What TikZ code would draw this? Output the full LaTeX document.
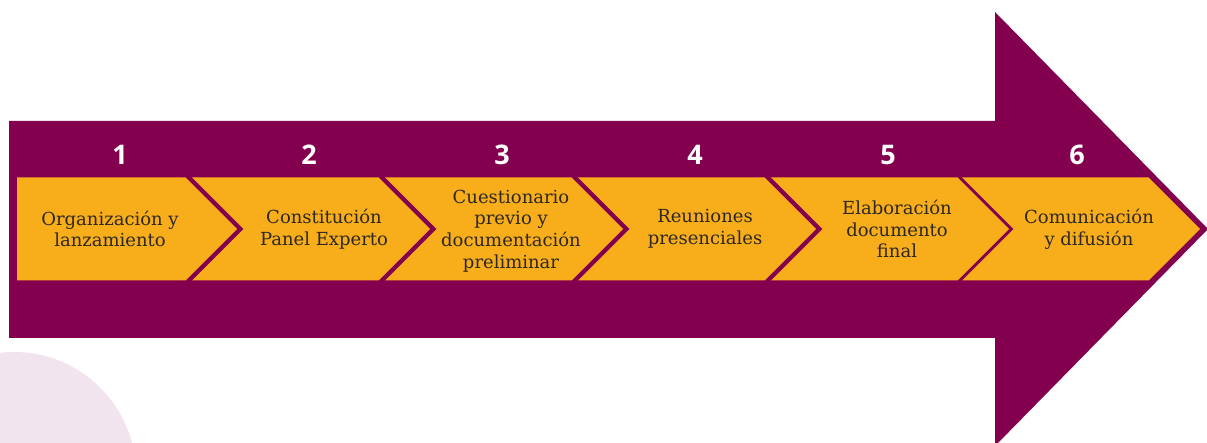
\documentclass[tikz,border=0pt]{standalone}
\usepackage{fontspec}
\setmainfont{DejaVu Serif}
\newfontfamily\numfont{Open Sans}
\usepackage{tikz}
\usetikzlibrary{shapes.symbols,positioning}

\definecolor{plum}{RGB}{131,0,79}
\definecolor{amber}{RGB}{248,173,27}
\definecolor{blush}{RGB}{242,228,238}
\definecolor{ink}{RGB}{45,40,35}

\begin{document}
\begin{tikzpicture}[
    x=1pt, y=-1pt,
    firstchev/.style={signal, signal to=east, fill=amber, minimum width=220pt, minimum height=103pt, inner sep=0pt},
    chev/.style={firstchev, signal from=west, minimum width=238pt},
    num/.style={font=\numfont\bfseries\fontsize{27}{30}\selectfont, text=white},
    txt/.style={align=center, font=\fontsize{18}{21.7}\selectfont, text=ink}
]
    \useasboundingbox (0,0) rectangle (1207,443);
    \clip (0,0) rectangle (1207,443);

    % Background
    \fill[blush] (14,474) circle (122);
    \fill[plum] (9,121) -- (995,121) -- (995,12) -- (1208,229) -- (995,446)
        -- (995,338) -- (9,338) -- cycle;

    % Phases
    \node[firstchev, anchor=west] (c1) at (17,229) {};
    \node[chev] (c2) at (311,229) {};
    \node[chev] (c3) at (504,229) {};
    \node[chev] (c4) at (697,229) {};
    \node[chev] (c5) at (890,229) {};
    \node[chev] (c6) at (1081,229) {};

    % Texts
    \node[txt] (t1) at (110,229) {Organización y\\lanzamiento};
    \node[txt] (t2) at (324,229) {Constitución\\Panel Experto};
    \node[txt] (t3) at (511,231) {Cuestionario\\previo y\\documentación\\preliminar};
    \node[txt] (t4) at (705,229) {Reuniones\\presenciales};
    \node[txt] (t5) at (897,229) {Elaboración\\documento\\final};
    \node[txt] (t6) at (1089,229) {Comunicación\\y difusión};

    % Numbers
    \node[num] (n1) at (120,155) {1};
    \node[num] (n2) at (309,155) {2};
    \node[num] (n3) at (502,155) {3};
    \node[num] (n4) at (695,155) {4};
    \node[num] (n5) at (888,155) {5};
    \node[num] (n6) at (1077,155) {6};

\end{tikzpicture}
\end{document}
